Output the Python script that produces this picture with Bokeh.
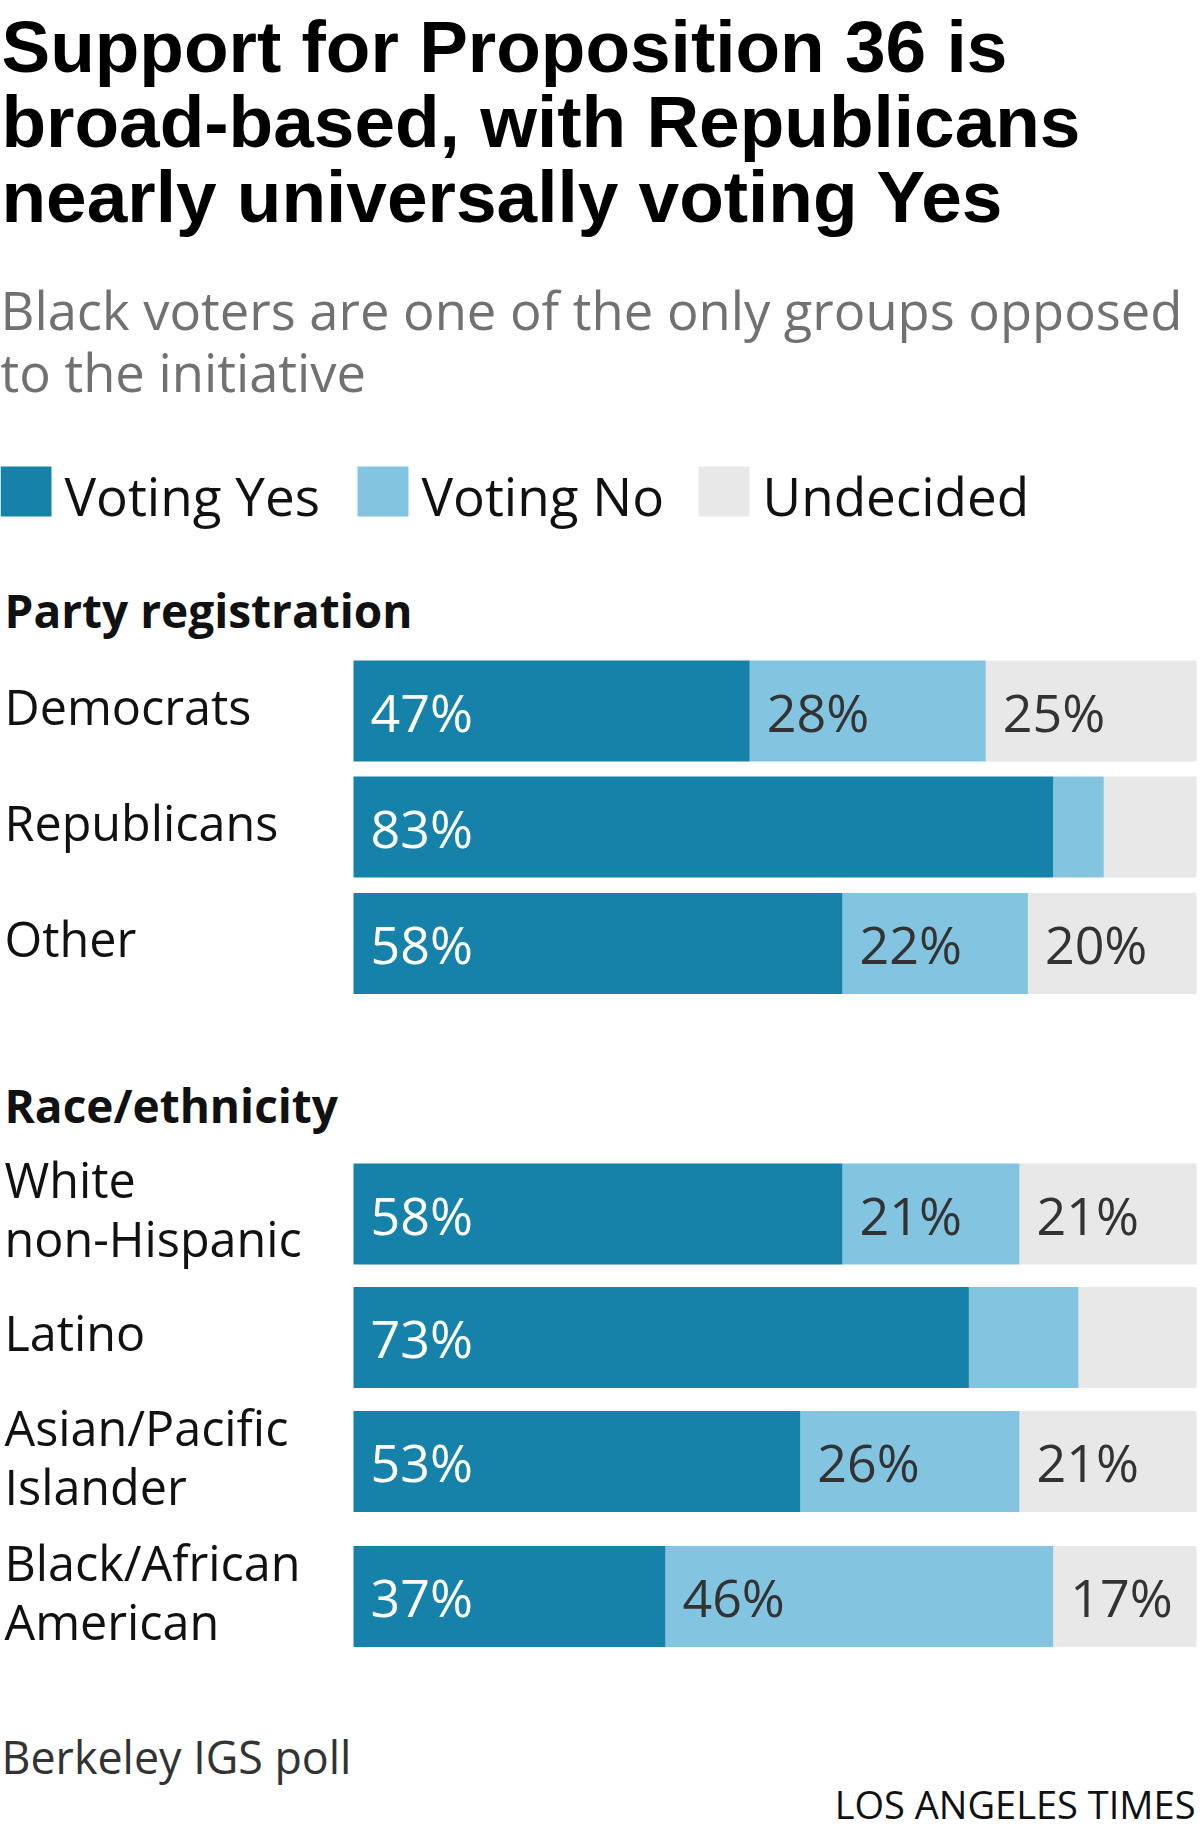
from bokeh.plotting import figure
from bokeh.models import Range1d, ColumnDataSource
from bokeh.core.properties import value
from bokeh.embed import file_html
from bokeh.resources import INLINE

# ---------------- data ----------------
title_lines = ["Support for Proposition 36 is",
               "broad-based, with Republicans",
               "nearly universally voting Yes"]
subtitle_lines = ["Black voters are one of the only groups opposed",
                  "to the initiative"]
series_names = ["Voting Yes", "Voting No", "Undecided"]
section_names = ["Party registration", "Race/ethnicity"]
groups = ["Democrats", "Republicans", "Other",
          "White\nnon-Hispanic", "Latino", "Asian/Pacific\nIslander",
          "Black/African\nAmerican"]
yes = [47, 83, 58, 58, 73, 53, 37]
no = [28, 6, 22, 21, 13, 26, 46]
undecided = [25, 11, 20, 21, 14, 21, 17]
source_note = "Berkeley IGS poll"
credit = "LOS ANGELES TIMES"

# ---------------- layout (page pixels) ----------------
W, H = 1200, 1838
X0, Y0 = 0, 0
BAR_LEFT, BAR_RIGHT = 353, 1196
ROW_Y = [710.5, 826.5, 943, 1213.5, 1337, 1461, 1596]
BAR_H = 101
SECTION_Y = [628, 1123]
FONT = value("Open Sans")
TITLE_FONT = value("Liberation Sans")
C_YES, C_NO, C_UND = "#1681a9", "#83c5e0", "#e8e8e8"
K = 0.4  # renderer baseline correction (fraction of font size)


def bl(y, size):
    return y - K * size


p = figure(width=W, height=H, output_backend="svg", toolbar_location=None,
           x_range=Range1d(X0, X0 + W), y_range=Range1d(Y0 + H, Y0),
           min_border=0, outline_line_color=None, tools="")
p.xaxis.visible = False
p.yaxis.visible = False
p.grid.visible = False
p.background_fill_color = "white"
p.border_fill_color = "white"

# percent scale: 0 -> BAR_LEFT, 100 -> BAR_RIGHT
span = 100.0 * W / (BAR_RIGHT - BAR_LEFT)
s = -(BAR_LEFT - X0) / W * span
p.extra_x_ranges = {"pct": Range1d(s, s + span)}

# ---------------- title & subtitle ----------------
TS = 73
title_base = [75, 150, 225]
for line, yb in zip(title_lines, title_base):
    p.text(x=[1], y=[bl(yb, TS)], text=[line], text_font=TITLE_FONT,
           text_font_size=value(f"{TS}px"), text_font_style="bold",
           text_color="#000000", text_baseline="alphabetic", text_align="left")
SS = 52.5
for i, line in enumerate(subtitle_lines):
    p.text(x=[0], y=[bl(330 + i * 62, SS)], text=[line], text_font=FONT,
           text_font_size=value(f"{SS}px"), text_color="#717171",
           text_baseline="alphabetic", text_align="left")

# ---------------- legend ----------------
leg_x = [0, 357, 698]
leg_cols = [C_YES, C_NO, C_UND]
LS = 53
for lx, name, col in zip(leg_x, series_names, leg_cols):
    p.quad(left=[lx], right=[lx + 51], top=[466], bottom=[516],
           fill_color=col, line_color=None)
    p.text(x=[lx + 64], y=[bl(516, LS)], text=[name], text_font=FONT,
           text_font_size=value(f"{LS}px"), text_color="#111111",
           text_baseline="alphabetic", text_align="left")

# ---------------- section headers ----------------
HS = 46
for sy, name in zip(SECTION_Y, section_names):
    p.text(x=[4], y=[bl(sy, HS)], text=[name], text_font=FONT,
           text_font_size=value(f"{HS}px"), text_font_style="bold",
           text_color="#111111", text_baseline="alphabetic", text_align="left")

# ---------------- bars ----------------
yes_l = [0] * len(yes)
yes_r = yes
no_l = yes
no_r = [a + b for a, b in zip(yes, no)]
und_l = no_r
und_r = [a + b for a, b in zip(no_r, undecided)]
src = ColumnDataSource(dict(y=ROW_Y, yes_l=yes_l, yes_r=yes_r, no_l=no_l,
                            no_r=no_r, und_l=und_l, und_r=und_r))
p.hbar(y="y", left="und_l", right="und_r", height=BAR_H, source=src,
       x_range_name="pct", fill_color=C_UND, line_color=None)
p.hbar(y="y", left="no_l", right="no_r", height=BAR_H, source=src,
       x_range_name="pct", fill_color=C_NO, line_color=None)
p.hbar(y="y", left="yes_l", right="yes_r", height=BAR_H, source=src,
       x_range_name="pct", fill_color=C_YES, line_color=None)

# segment labels
PS = 52
lx, ly, lt, lc = [], [], [], []
for i in range(len(groups)):
    for left, val, col in ((yes_l[i], yes[i], "#ffffff"),
                           (no_l[i], no[i], "#333333"),
                           (und_l[i], undecided[i], "#333333")):
        if val >= 15:
            lx.append(left)
            ly.append(bl(ROW_Y[i] + 21, PS))
            lt.append(f"{val}%")
            lc.append(col)
p.text(x=lx, y=ly, text=lt, text_color=lc, x_range_name="pct", x_offset=17,
       text_font=FONT, text_font_size=value(f"{PS}px"),
       text_baseline="alphabetic", text_align="left")

# row labels
RS = 48.5
rx, ry, rt = [], [], []
for g, cy in zip(groups, ROW_Y):
    lines = g.split("\n")
    n = len(lines)
    for j, line in enumerate(lines):
        rx.append(4)
        ry.append(bl(cy + 14 + (j - (n - 1) / 2) * 59, RS))
        rt.append(line)
p.text(x=rx, y=ry, text=rt, text_font=FONT, text_font_size=value(f"{RS}px"),
       text_color="#111111", text_baseline="alphabetic", text_align="left")

# ---------------- footer ----------------
FS = 44.8
p.text(x=[1], y=[bl(1774, FS)], text=[source_note], text_font=FONT,
       text_font_size=value(f"{FS}px"), text_color="#333333",
       text_baseline="alphabetic", text_align="left")
CS = 38
p.text(x=[1195], y=[bl(1819, CS)], text=[credit], text_font=FONT,
       text_font_size=value(f"{CS}px"), text_color="#111111",
       text_baseline="alphabetic", text_align="right")

open("out.html", "w").write(file_html(p, INLINE))
